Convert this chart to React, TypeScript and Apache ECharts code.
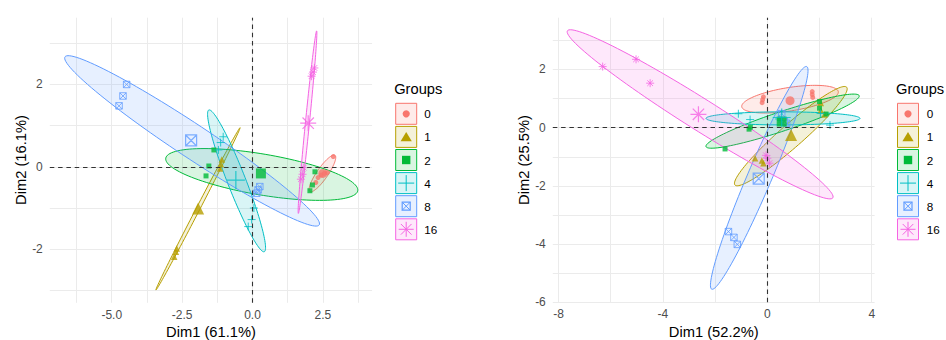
import React, { useEffect, useRef } from 'react';
import * as echarts from 'echarts';

const FONT = '"Liberation Sans", Arial, Helvetica, sans-serif';

// Groups and their colours (ggplot hue palette)
const groups = ['0', '1', '2', '4', '8', '16'];
const groupColors = ['#F8766D', '#B79F00', '#00BA38', '#00BFC4', '#619CFF', '#F564E3'];

// ---------- Left biplot: Dim1 (61.1%) vs Dim2 (16.1%) ----------
const leftScores0 = [[2.87, 0.25], [2.66, -0.14], [2.55, -0.16], [2.44, -0.2], [2.33, -0.26], [2.25, -0.38]];
const leftScores1 = [[-1.15, -0.04], [-1.09, 0.18], [-1.12, 0.06], [-2.69, -1.98], [-2.72, -2.06], [-2.78, -2.18]];
const leftScores2 = [[-1.37, 0.41], [-1.55, 0.02], [-1.65, -0.22], [2.22, -0.12], [2.13, -0.44], [2.04, -0.58]];
const leftScores4 = [[-1.04, 0.73], [-1.13, 0.59], [-1.21, 0.41], [0.05, -1.0], [-0.03, -1.28], [-0.15, -1.45]];
const leftScores8 = [[-4.47, 2.0], [-4.6, 1.72], [-4.74, 1.48], [0.26, -0.48], [0.2, -0.56], [0.15, -0.64]];
const leftScores16 = [[2.2, 2.4], [2.1, 2.2], [2.15, 2.3], [1.82, -0.02], [1.72, -0.3], [1.78, -0.18]];
const leftCentroids = [[2.5, -0.16], [-1.93, -1.01], [0.3, -0.16], [-0.59, -0.32], [-2.18, 0.64], [1.98, 1.06]];
// confidence ellipses: major-axis end points (x1, y1, x2, y2) and minor/major ratio
const leftEllipses = [
  [2.93, 0.28, 2.04, -0.6, 0.25],
  [-3.43, -2.99, -0.44, 0.95, 0.02],
  [-3.08, 0.21, 3.74, -0.58, 0.21],
  [-1.55, 1.38, 0.42, -2.06, 0.12],
  [-6.66, 2.67, 2.37, -1.41, 0.11],
  [2.28, 3.3, 1.63, -1.13, 0.022],
];
const leftXTicks = [-5, -2.5, 0, 2.5];
const leftXGrid = [-6.25, -5, -3.75, -2.5, -1.25, 0, 1.25, 2.5, 3.75];
const leftYTicks = [-2, 0, 2];
const leftYGrid = [-3, -2, -1, 0, 1, 2, 3];

// ---------- Right biplot: Dim1 (52.2%) vs Dim2 (25.5%) ----------
const rightScores0 = [[-0.15, 1.06], [-0.18, 0.96], [-0.2, 0.86], [1.72, 1.24], [1.72, 1.14], [1.74, 1.04]];
const rightScores1 = [[-0.47, -1.05], [-0.21, -1.13], [-0.15, -1.22], [2.05, 0.85], [2.05, 0.6], [2.19, 0.45]];
const rightScores2 = [[-1.62, -0.73], [-0.65, 0.02], [-0.7, -0.05], [2.0, 0.9], [2.0, 0.67], [2.25, 0.47]];
const rightScores4 = [[-1.11, 0.48], [-0.66, 0.28], [2.04, 0.49], [2.4, 0.09], [0.45, 0.3], [0.52, 0.25]];
const rightScores8 = [[-1.49, -3.57], [-1.28, -3.77], [-1.15, -4.01], [0.55, 0.48], [0.65, 0.22], [0.74, 0.15]];
const rightScores16 = [[-6.31, 2.1], [-5.03, 2.35], [-4.49, 1.53], [-0.05, -0.95], [0.0, -1.05], [0.08, -1.22]];
const rightCentroids = [[0.87, 0.93], [0.91, -0.25], [0.55, 0.21], [0.55, 0.35], [-0.33, -1.75], [-2.64, 0.46]];
const rightEllipses = [
  [-0.98, 0.72, 2.72, 1.24, 0.24],
  [-1.24, -1.97, 3.04, 1.39, 0.155],
  [-2.35, -0.65, 3.52, 1.1, 0.12],
  [-2.35, 0.32, 3.55, 0.32, 0.085],
  [1.51, 2.1, -2.13, -5.55, 0.1],
  [-7.66, 3.33, 2.51, -2.41, 0.1],
];
const rightXTicks = [-8, -4, 0, 4];
const rightXGrid = [-8, -6, -4, -2, 0, 2, 4];
const rightYTicks = [-6, -4, -2, 0, 2];
const rightYGrid = [-6, -5, -4, -3, -2, -1, 0, 1, 2, 3];

const leftScores = [leftScores0, leftScores1, leftScores2, leftScores4, leftScores8, leftScores16];
const rightScores = [rightScores0, rightScores1, rightScores2, rightScores4, rightScores8, rightScores16];

// point shapes: filled circle, triangle, square; plus, boxed cross, asterisk
const PLUS = 'path://M0,-1L0,1M-1,0L1,0';
const BOXCROSS = 'path://M-1,-1L1,-1L1,1L-1,1ZM-1,-1L1,1M-1,1L1,-1';
const ASTER = 'path://M0,-1L0,1M-1,0L1,0M-0.71,-0.71L0.71,0.71M-0.71,0.71L0.71,-0.71';
const pointSymbols = ['circle', 'triangle', 'rect', PLUS, BOXCROSS, ASTER];
const hollowSymbol = [false, false, false, true, true, true];
const pointSizes = [5, 6.5, 5, 8, 6.5, 8];
const meanSizes = [9, 12, 10, 18, 11, 16];

function rgba(hex: string, a: number) {
  const n = parseInt(hex.slice(1), 16);
  return `rgba(${(n >> 16) & 255},${(n >> 8) & 255},${n & 255},${a})`;
}

function ellipseRender(color: string) {
  return (_params: any, api: any) => {
    const a = api.coord([api.value(0), api.value(1)]);
    const b = api.coord([api.value(2), api.value(3)]);
    const ratio = api.value(4);
    const cx = (a[0] + b[0]) / 2;
    const cy = (a[1] + b[1]) / 2;
    const ux = (a[0] - b[0]) / 2;
    const uy = (a[1] - b[1]) / 2;
    const vx = -uy * ratio;
    const vy = ux * ratio;
    const pts: number[][] = [];
    const n = 120;
    for (let k = 0; k < n; k++) {
      const t = (k / n) * Math.PI * 2;
      pts.push([cx + ux * Math.cos(t) + vx * Math.sin(t), cy + uy * Math.cos(t) + vy * Math.sin(t)]);
    }
    return {
      type: 'polygon',
      shape: { points: pts },
      style: { fill: rgba(color, 0.15), stroke: color, lineWidth: 1 },
    };
  };
}

function panelSeries(panel: number, scores: number[][][], centroids: number[][], ellipses: number[][]) {
  const series: any[] = [];
  ellipses.forEach((e, g) => {
    series.push({
      type: 'custom',
      coordinateSystem: 'cartesian2d',
      xAxisIndex: panel,
      yAxisIndex: panel,
      data: [e],
      renderItem: ellipseRender(groupColors[g]),
      silent: true,
      clip: false,
      z: 1,
    });
  });
  series.push({
    type: 'scatter',
    xAxisIndex: panel,
    yAxisIndex: panel,
    data: [],
    silent: true,
    z: 2,
    markLine: {
      silent: true,
      symbol: ['none', 'none'],
      label: { show: false },
      lineStyle: { color: '#333333', width: 1.1, type: [4.5, 3.8] },
      data: [{ xAxis: 0 }, { yAxis: 0 }],
    },
  });
  scores.forEach((pts, g) => {
    const c = groupColors[g];
    const style = hollowSymbol[g]
      ? { color: 'rgba(0,0,0,0)', borderColor: c, borderWidth: 1 }
      : { color: c };
    series.push({
      type: 'scatter',
      xAxisIndex: panel,
      yAxisIndex: panel,
      data: pts,
      symbol: pointSymbols[g],
      symbolSize: pointSizes[g],
      itemStyle: style,
      silent: true,
      z: 3,
    });
    series.push({
      type: 'scatter',
      xAxisIndex: panel,
      yAxisIndex: panel,
      data: [centroids[g]],
      symbol: pointSymbols[g],
      symbolSize: meanSizes[g],
      itemStyle: hollowSymbol[g] ? { ...style, borderWidth: 1.2 } : style,
      silent: true,
      z: 4,
    });
  });
  return series;
}

function valueAxis(panel: number, min: number, max: number, grid: number[], ticks: number[], fmt: (v: number) => string, isX: boolean) {
  return {
    type: 'value',
    gridIndex: panel,
    min,
    max,
    axisLine: { show: false },
    axisTick: { show: false, customValues: grid },
    axisLabel: {
      customValues: ticks,
      formatter: fmt,
      color: '#4D4D4D',
      fontSize: 12,
      fontFamily: FONT,
      margin: isX ? 6 : 7,
    },
    splitLine: { show: true, lineStyle: { color: '#EBEBEB', width: 1 } },
    minorSplitLine: { show: false },
  };
}

function legendGraphics(left: number, labelX: number) {
  const els: any[] = [];
  els.push({
    type: 'text',
    x: left - 1.5,
    y: 89,
    style: { text: 'Groups', font: `14.7px ${FONT}`, fill: '#000', textVerticalAlign: 'middle' },
  });
  groups.forEach((name, g) => {
    const c = groupColors[g];
    const top = 103.3 + g * 23.1;
    const w = 21;
    const cx = left + w / 2;
    const cy = top + w / 2;
    els.push({
      type: 'rect',
      shape: { x: left, y: top, width: w, height: w },
      style: { fill: rgba(c, 0.15), stroke: c, lineWidth: 1 },
    });
    if (g === 0) {
      els.push({ type: 'circle', shape: { cx, cy, r: 3.6 }, style: { fill: c } });
    } else if (g === 1) {
      els.push({ type: 'polygon', shape: { points: [[cx, cy - 5], [cx + 5.6, cy + 4.3], [cx - 5.6, cy + 4.3]] }, style: { fill: c } });
    } else if (g === 2) {
      els.push({ type: 'rect', shape: { x: cx - 4.2, y: cy - 4.2, width: 8.4, height: 8.4 }, style: { fill: c } });
    } else if (g === 3) {
      els.push({ type: 'line', shape: { x1: cx - 8, y1: cy, x2: cx + 8, y2: cy }, style: { stroke: c, lineWidth: 1 } });
      els.push({ type: 'line', shape: { x1: cx, y1: cy - 8, x2: cx, y2: cy + 8 }, style: { stroke: c, lineWidth: 1 } });
    } else if (g === 4) {
      els.push({ type: 'rect', shape: { x: cx - 4, y: cy - 4, width: 8, height: 8 }, style: { fill: 'none', stroke: c, lineWidth: 1.2 } });
      els.push({ type: 'line', shape: { x1: cx - 4, y1: cy - 4, x2: cx + 4, y2: cy + 4 }, style: { stroke: c, lineWidth: 1 } });
      els.push({ type: 'line', shape: { x1: cx - 4, y1: cy + 4, x2: cx + 4, y2: cy - 4 }, style: { stroke: c, lineWidth: 1 } });
    } else {
      const r = 7.5;
      const d = r * 0.71;
      els.push({ type: 'line', shape: { x1: cx - r, y1: cy, x2: cx + r, y2: cy }, style: { stroke: c, lineWidth: 1 } });
      els.push({ type: 'line', shape: { x1: cx, y1: cy - r, x2: cx, y2: cy + r }, style: { stroke: c, lineWidth: 1 } });
      els.push({ type: 'line', shape: { x1: cx - d, y1: cy - d, x2: cx + d, y2: cy + d }, style: { stroke: c, lineWidth: 1 } });
      els.push({ type: 'line', shape: { x1: cx - d, y1: cy + d, x2: cx + d, y2: cy - d }, style: { stroke: c, lineWidth: 1 } });
    }
    els.push({
      type: 'text',
      x: labelX,
      y: cy,
      style: { text: name, font: `11.7px ${FONT}`, fill: '#000', textVerticalAlign: 'middle' },
    });
  });
  return els;
}

function axisTitle(text: string, x: number, y: number, vertical: boolean) {
  return {
    type: 'text',
    x,
    y,
    rotation: vertical ? Math.PI / 2 : 0,
    style: {
      text,
      font: `14.7px ${FONT}`,
      fill: '#000',
      textAlign: 'center',
      textVerticalAlign: 'middle',
    },
  };
}

export default function App() {
  const ref = useRef<HTMLDivElement>(null);

  useEffect(() => {
    if (!ref.current) return;
    const chart = echarts.init(ref.current, undefined, { renderer: 'svg' });
    const oneDec = (v: number) => v.toFixed(1);
    const intFmt = (v: number) => String(v);
    chart.setOption({
      animation: false,
      backgroundColor: '#FFFFFF',
      textStyle: { fontFamily: FONT },
      grid: [
        { left: 49.8, top: 17.7, width: 322.3, height: 285.1, outerBoundsMode: 'none' },
        { left: 552.8, top: 17.7, width: 321.8, height: 284.6, outerBoundsMode: 'none' },
      ],
      xAxis: [
        valueAxis(0, -7.2, 4.25, leftXGrid, leftXTicks, oneDec, true),
        valueAxis(1, -8.22, 4.11, rightXGrid, rightXTicks, intFmt, true),
      ],
      yAxis: [
        valueAxis(0, -3.3, 3.62, leftYGrid, leftYTicks, intFmt, false),
        valueAxis(1, -6.0, 3.78, rightYGrid, rightYTicks, intFmt, false),
      ],
      series: [
        ...panelSeries(0, leftScores, leftCentroids, leftEllipses),
        ...panelSeries(1, rightScores, rightCentroids, rightEllipses),
      ],
      graphic: [
        axisTitle('Dim1 (61.1%)', 211, 332, false),
        axisTitle('Dim2 (16.1%)', 21, 160, true),
        axisTitle('Dim1 (52.2%)', 713.7, 332, false),
        axisTitle('Dim2 (25.5%)', 523.5, 160, true),
        ...legendGraphics(395.7, 424.3),
        ...legendGraphics(897.5, 926.7),
      ],
    });
    return () => chart.dispose();
  }, []);

  return (
    <div
      ref={ref}
      style={{ position: 'fixed', left: 0, top: 0, width: 946, height: 340, background: '#fff' }}
    />
  );
}
